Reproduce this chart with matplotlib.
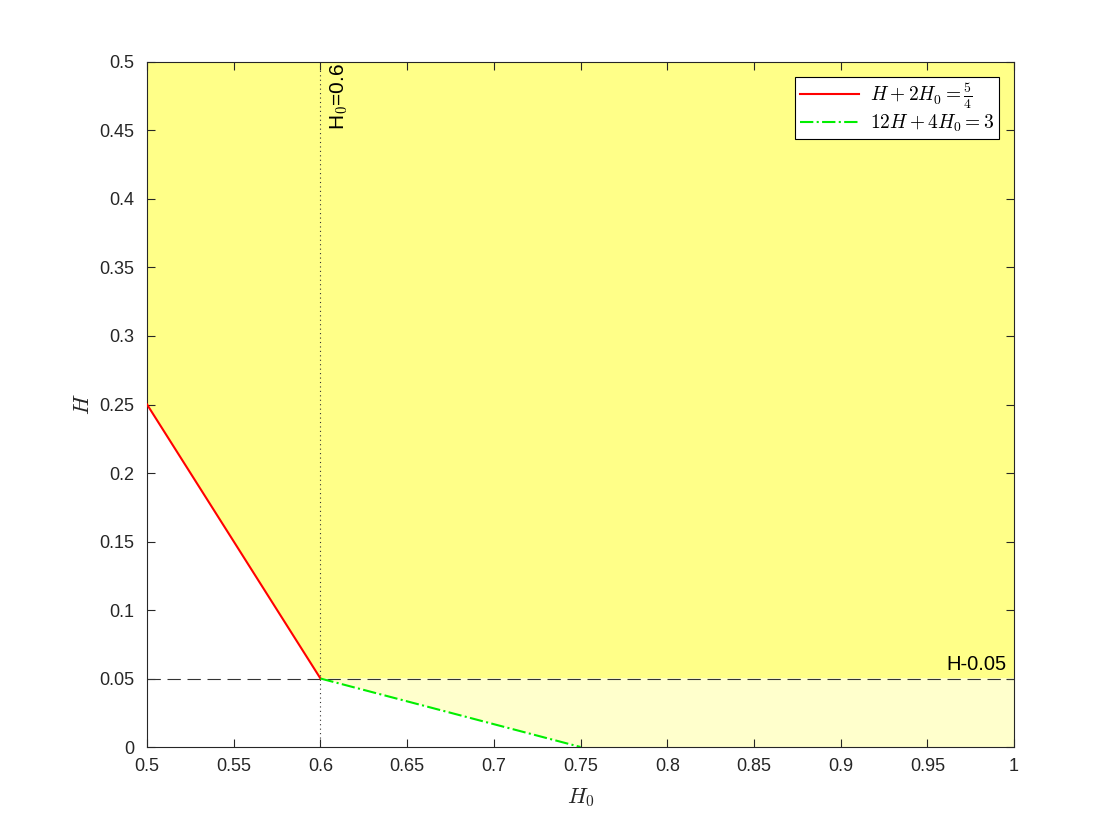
import numpy as np
import matplotlib.pyplot as plt

plt.rcParams['font.family'] = ['Liberation Sans', 'DejaVu Sans']
plt.rcParams['mathtext.fontset'] = 'cm'

# boundary lines
red_x = [0.5, 0.6]
red_y = [0.25, 0.05]
green_x = [0.6, 0.75]
green_y = [0.05, 0.0]

# shaded regions (polygon vertices in data units)
upper_x = [0.5, 0.6, 1.0, 1.0, 0.5]
upper_y = [0.25, 0.05, 0.05, 0.5, 0.5]
lower_x = [0.6, 0.75, 1.0, 1.0]
lower_y = [0.05, 0.0, 0.0, 0.05]

h0_line = 0.6
h_line = 0.05

xticks = [0.5, 0.55, 0.6, 0.65, 0.7, 0.75, 0.8, 0.85, 0.9, 0.95, 1.0]
xticklabels = ['0.5', '0.55', '0.6', '0.65', '0.7', '0.75', '0.8', '0.85', '0.9', '0.95', '1']
yticks = [0, 0.05, 0.1, 0.15, 0.2, 0.25, 0.3, 0.35, 0.4, 0.45, 0.5]
yticklabels = ['0', '0.05', '0.1', '0.15', '0.2', '0.25', '0.3', '0.35', '0.4', '0.45', '0.5']

fig = plt.figure(figsize=(11.2, 8.4), dpi=100)
ax = fig.add_axes([0.1313, 0.1107, 0.7741, 0.8155])

ax.fill(upper_x, upper_y, color='#ffff88', lw=0, zorder=0)
ax.fill(lower_x, lower_y, color='#ffffcc', lw=0, zorder=0)

ax.plot(red_x, red_y, color='red', lw=1.5, label=r'$H+2H_0=\frac{5}{4}$', zorder=3)
ax.plot(green_x, green_y, color='#00ee00', lw=1.5, ls='-.', label=r'$12H+4H_0=3$', zorder=3)

ax.axhline(h_line, color='#333333', lw=0.8, ls=(0, (12, 6)), zorder=2)
ax.axvline(h0_line, color='#333333', lw=0.8, ls=(0, (1, 3)), zorder=2)

ax.text(0.6045, 0.499, r'H$_0$=0.6', rotation=90, ha='left', va='top', fontsize=15)
ax.text(0.9955, 0.0535, 'H-0.05', ha='right', va='bottom', fontsize=14.5)

ax.set_xlim(0.5, 1.0)
ax.set_ylim(0, 0.5)
ax.set_xticks(xticks)
ax.set_xticklabels(xticklabels)
ax.set_yticks(yticks)
ax.set_yticklabels(yticklabels)
ax.tick_params(direction='in', top=True, right=True, labelsize=13, colors='#262626',
               length=6, width=0.8)
ax.tick_params(axis='x', pad=8)
ax.tick_params(axis='y', pad=9)
for s in ax.spines.values():
    s.set_color('#262626')
    s.set_linewidth(0.8)

ax.set_xlabel(r'$H_0$', fontsize=16, color='#262626', labelpad=8)
ax.set_ylabel(r'$H$', fontsize=16, color='#262626', labelpad=4)

leg = ax.legend(loc='upper right', fontsize=14, fancybox=False, framealpha=1,
                edgecolor='black', borderaxespad=0.75, handlelength=3.0,
                labelspacing=0.1, borderpad=0.25, handletextpad=0.6)
leg.get_frame().set_linewidth(0.8)

plt.savefig('out.png', dpi=100)
